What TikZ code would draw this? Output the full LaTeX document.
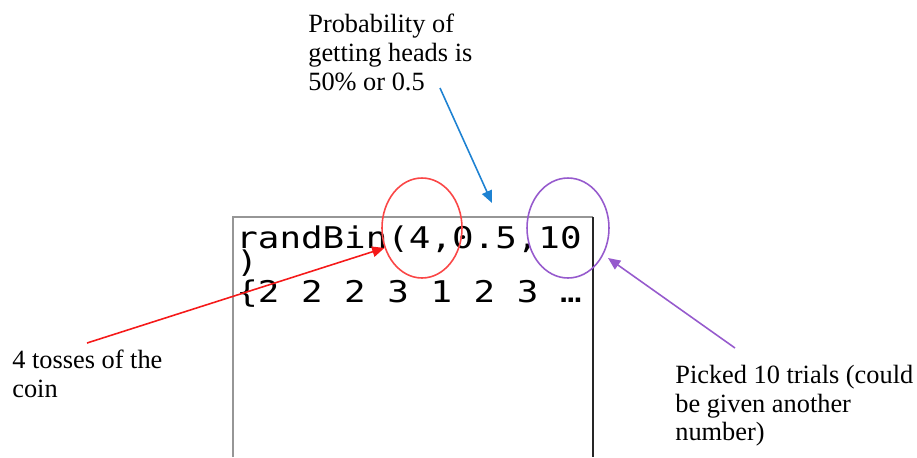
\documentclass[tikz,border=0pt]{standalone}
\usepackage{fontspec}
\setmainfont{Liberation Serif}
\newfontfamily\calcfont[FakeStretch=1.2]{DejaVu Sans Mono}
\usetikzlibrary{shapes.geometric, arrows.meta}
\definecolor{markred}{RGB}{250, 70, 70}
\definecolor{arrowred}{RGB}{245, 25, 25}
\definecolor{probblue}{RGB}{30, 130, 210}
\definecolor{trialpurple}{RGB}{150, 90, 205}
\definecolor{screengray}{RGB}{150, 150, 150}
\tikzset{
  note/.style     = {anchor=north west, inner sep=0pt, align=left, font=\fontsize{15}{16.3}\selectfont},
  calcline/.style = {anchor=base west, inner sep=0pt, font=\calcfont\fontsize{17}{17}\selectfont},
  ring/.style     = {ellipse, draw, line width=0.9pt, inner sep=0pt, minimum width=1.6cm, minimum height=2cm},
  pointer/.style  = {-{Triangle[length=7pt, width=6pt]}, line width=0.9pt},
}
\begin{document}
\begin{tikzpicture}[x=0.02cm, y=-0.02cm]
  \useasboundingbox (0,0) rectangle (917,457);

  % calculator screen
  \draw[screengray, line width=0.8pt] (233,457) -- (233,217) -- (593,217);
  \draw[black!85, line width=1.1pt] (593,217) -- (593,457);

  \node[calcline] (cmd)    at (236,248) {randBin(4,0.5,10};
  \node[calcline] (cmdend) at (236,272) {)};
  \node[calcline] (result) at (236,302) {\{2 2 2 3 1 2 3 …};

  % labels
  \node[note] (probtext)  at (308,14)  {Probability of\\getting heads is\\50\% or 0.5};
  \node[note] (tosstext)  at (12,350)  {4 tosses of the\\coin};
  \node[note] (trialtext) at (675,365) {Picked 10 trials (could\\be given another\\number)};

  \node[ring, markred] (fourring) at (422,228) {};
  \node[ring, trialpurple, minimum width=1.64cm] (trialring) at (568,228) {};

  \coordinate (probtail)  at (440,88);
  \coordinate (probtip)   at (492,203);
  \coordinate (tosstail)  at (87,343);
  \coordinate (trialtail) at (735,348);
  \coordinate (trialtip)  at (608,258);

  \draw[pointer, probblue]    (probtail) -- (probtip);
  \draw[pointer, arrowred]    (tosstail) -- (fourring.208);
  \draw[pointer, trialpurple] (trialtail) -- (trialtip);
\end{tikzpicture}
\end{document}
